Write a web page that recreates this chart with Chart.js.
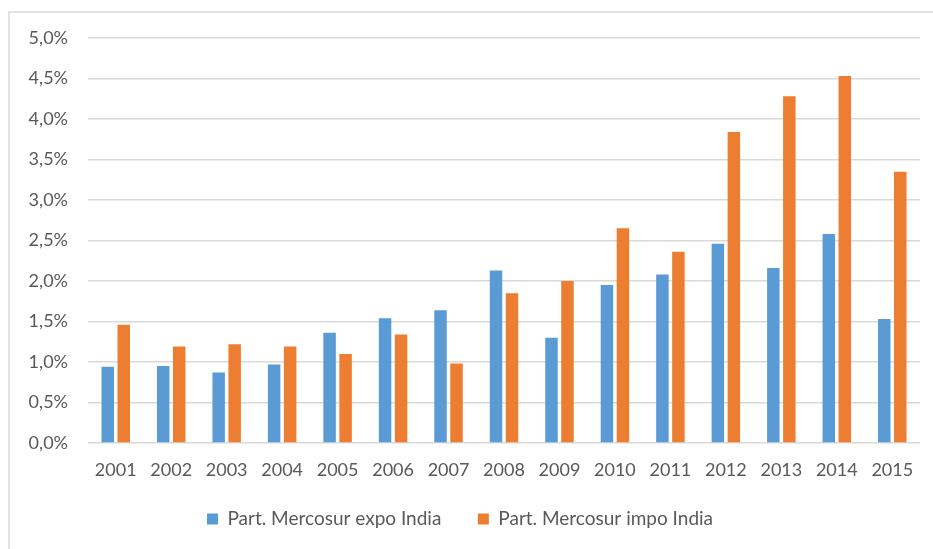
<!DOCTYPE html>
<html>
<head>
<meta charset="utf-8">
<script src="https://cdn.jsdelivr.net/npm/chart.js@4/dist/chart.umd.min.js"></script>
<style>
  html, body { margin: 0; padding: 0; background: #ffffff; }
  #wrap { position: relative; width: 933px; height: 549px; }
</style>
</head>
<body>
<div id="wrap"><canvas id="chart" width="933" height="549"></canvas></div>
<script>
// Years on the category axis
const years = ['2001','2002','2003','2004','2005','2006','2007','2008','2009','2010','2011','2012','2013','2014','2015'];
// Mercosur share of India's exports (%)
const expoIndia = [0.94, 0.95, 0.87, 0.97, 1.36, 1.54, 1.64, 2.13, 1.30, 1.95, 2.08, 2.46, 2.16, 2.58, 1.53];
// Mercosur share of India's imports (%)
const impoIndia = [1.46, 1.19, 1.22, 1.19, 1.10, 1.34, 0.98, 1.85, 2.00, 2.65, 2.36, 3.84, 4.28, 4.53, 3.35];
// Value-axis labels, bottom to top
const yTickLabels = ['0,0%','0,5%','1,0%','1,5%','2,0%','2,5%','3,0%','3,5%','4,0%','4,5%','5,0%'];
const seriesNames = ['Part. Mercosur expo India', 'Part. Mercosur impo India'];

const TEXT = '#595959';
const GRID = '#d9d9d9';

// Thin frame around the whole chart
const framePlugin = {
  id: 'frame',
  beforeDraw(chart) {
    const ctx = chart.ctx;
    ctx.save();
    ctx.fillStyle = '#ffffff';
    ctx.fillRect(0, 0, chart.width, chart.height);
    ctx.strokeStyle = GRID;
    ctx.lineWidth = 1.5;
    ctx.strokeRect(9, 12, chart.width + 20, chart.height + 20);
    ctx.restore();
  }
};

// Lift the legend a little closer to the axis labels while keeping
// the wide horizontal spacing between its two entries
const legendLift = {
  id: 'legendLift',
  afterLayout(chart) {
    const lg = chart.legend;
    if (lg) { lg.top -= 8; lg.bottom -= 8; }
  }
};

new Chart(document.getElementById('chart'), {
  type: 'bar',
  data: {
    labels: years,
    datasets: [
      {
        label: seriesNames[0],
        data: expoIndia,
        backgroundColor: '#5b9bd5',
        categoryPercentage: 0.577,
        barPercentage: 0.78
      },
      {
        label: seriesNames[1],
        data: impoIndia,
        backgroundColor: '#ed7d31',
        categoryPercentage: 0.577,
        barPercentage: 0.78
      }
    ]
  },
  options: {
    responsive: false,
    animation: false,
    devicePixelRatio: 1,
    layout: { padding: { left: 0, right: 13, top: 38, bottom: 2.5 } },
    plugins: {
      tooltip: { enabled: false },
      legend: {
        position: 'bottom',
        labels: {
          color: TEXT,
          font: { family: 'Lato', size: 19 },
          boxWidth: 11,
          boxHeight: 11,
          padding: 36.5
        }
      }
    },
    scales: {
      x: {
        grid: { display: false, drawTicks: false },
        border: { display: false },
        ticks: {
          color: TEXT,
          font: { family: 'Lato', size: 18 },
          padding: 16.5,
          maxRotation: 0,
          autoSkip: false
        },
        afterFit(scale) { scale.height = 38; }
      },
      y: {
        min: 0,
        max: 5,
        grid: { color: GRID, lineWidth: 1.5, drawTicks: false },
        border: { display: false },
        ticks: {
          stepSize: 0.5,
          color: TEXT,
          font: { family: 'Lato', size: 18 },
          padding: 20,
          callback(value, index) { return yTickLabels[index]; }
        },
        afterFit(scale) { scale.width = 88; }
      }
    }
  },
  plugins: [framePlugin, legendLift]
});
</script>
</body>
</html>
